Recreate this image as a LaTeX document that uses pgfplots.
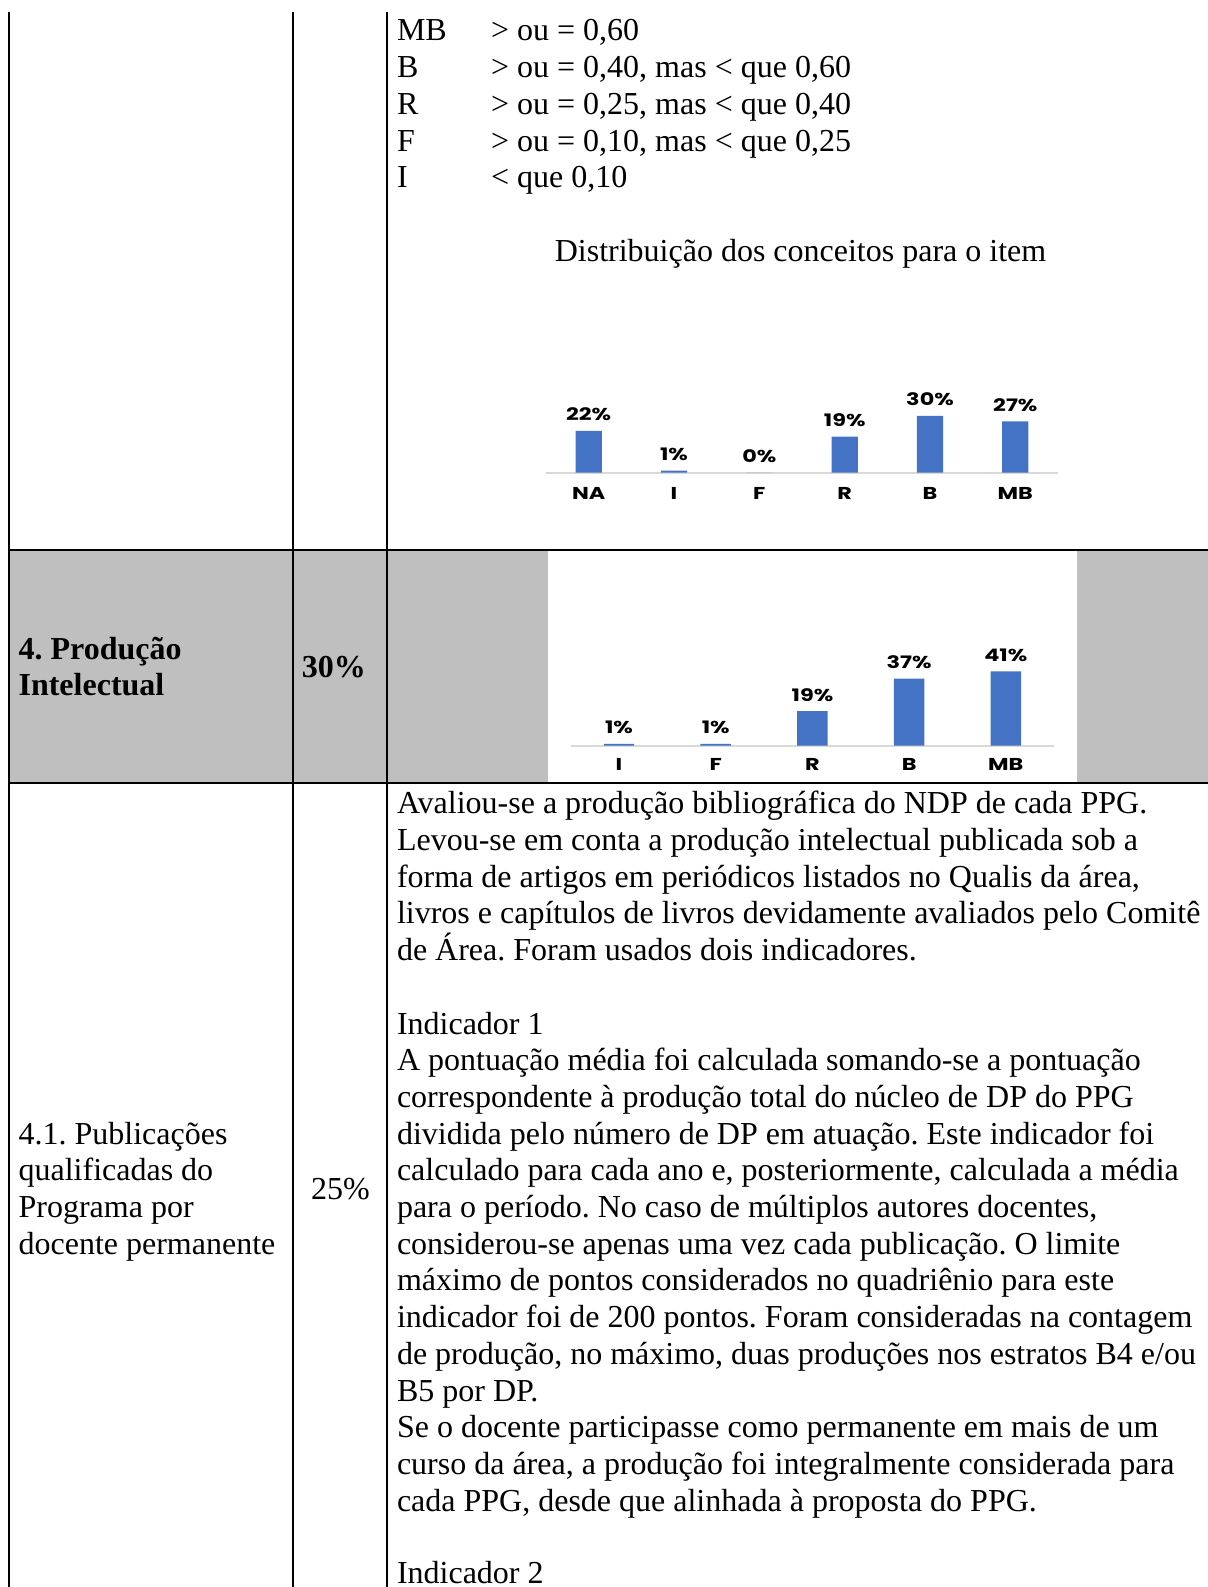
\documentclass[border=0pt]{standalone}
\usepackage{fontspec}
\setmainfont{Liberation Serif}
\newfontfamily\chartfont{Poppins}
\usepackage{pgfplots}
\pgfplotsset{compat=1.18}
\definecolor{barblue}{HTML}{4472C4}
\definecolor{cellgray}{HTML}{BFBFBF}
\definecolor{axgray}{HTML}{D9D9D9}
\frenchspacing
\newcommand\cf{\chartfont\bfseries\fontsize{8.6}{9}\selectfont}
\pgfplotsset{barchart/.style={
  ybar, scale only axis, ymin=0, clip=false, enlargelimits=false,
  axis x line*=bottom, axis y line=none,
  x axis line style={draw=axgray, line width=1pt, -},
  xtick=data, major tick length=0pt, ytick=\empty,
  xticklabel style={font=\cf, anchor=base, inner sep=0pt, xscale=1.3, text=black},
  nodes near coords={\pgfmathprintnumber{\pgfplotspointmeta}\%},
  every node near coord/.append style={font=\cf, anchor=base, inner sep=0pt, yshift=5.0pt, xscale=1.3, text=black},
  /pgf/number format/assume math mode=true,
}}
\newcommand\T[3]{\node[anchor=base west,inner sep=0pt] at (#1,#2) {#3};}
\begin{document}
\begin{tikzpicture}
\begin{scope}[x=0.5pt,y=-0.5pt,every node/.style={font=\fontsize{16}{18}\selectfont}]
\useasboundingbox (0,0) rectangle (1208,1587);
\fill[white] (0,0) rectangle (1208,1587);
\fill[cellgray] (9,550) rectangle (1208,783);
\fill[white] (548,551) rectangle (1077,782);
\draw[line width=0.8pt] (9,12) -- (9,1587);
\draw[line width=0.8pt] (293,12) -- (293,1587);
\draw[line width=0.8pt] (387,12) -- (387,1587);
\draw[line width=0.8pt] (9,550) -- (1208,550);
\draw[line width=0.8pt] (9,783) -- (1208,783);
% top criteria
\T{396.6}{40.9}{MB}\T{490.7}{40.9}{> ou = 0,60}
\T{396.6}{77.6}{B}\T{490.7}{77.6}{> ou = 0,40, mas < que 0,60}
\T{396.6}{114.3}{R}\T{490.7}{114.3}{> ou = 0,25, mas < que 0,40}
\T{396.6}{151.0}{F}\T{490.7}{151.0}{> ou = 0,10, mas < que 0,25}
\T{396.6}{187.7}{I}\T{490.7}{187.7}{< que 0,10}
\T{554.4}{261.4}{Distribuição dos conceitos para o item}
% gray row
\T{18.2}{659}{\bfseries 4. Produção}
\T{18.2}{695.4}{\bfseries Intelectual}
\T{301.5}{677.2}{\bfseries 30\%}
% lower left
\T{18.2}{1144.1}{4.1. Publicações}
\T{18.2}{1180.8}{qualificadas do}
\T{18.2}{1217.5}{Programa por}
\T{18.2}{1254.2}{docente permanente}
\T{310.6}{1199.2}{25\%}
% lower right
\T{396.6}{813.8}{Avaliou-se a produção bibliográfica do NDP de cada PPG.}
\T{396.6}{850.5}{Levou-se em conta a produção intelectual publicada sob a}
\T{396.6}{887.2}{forma de artigos em periódicos listados no Qualis da área,}
\T{396.6}{923.9}{livros e capítulos de livros devidamente avaliados pelo Comitê}
\T{396.6}{960.6}{de Área. Foram usados dois indicadores.}
\T{396.6}{1034.0}{Indicador 1}
\T{396.6}{1070.7}{A pontuação média foi calculada somando-se a pontuação}
\T{396.6}{1107.4}{correspondente à produção total do núcleo de DP do PPG}
\T{396.6}{1144.1}{dividida pelo número de DP em atuação. Este indicador foi}
\T{396.6}{1180.8}{calculado para cada ano e, posteriormente, calculada a média}
\T{396.6}{1217.5}{para o período. No caso de múltiplos autores docentes,}
\T{396.6}{1254.2}{considerou-se apenas uma vez cada publicação. O limite}
\T{396.6}{1290.9}{máximo de pontos considerados no quadriênio para este}
\T{396.6}{1327.6}{indicador foi de 200 pontos. Foram consideradas na contagem}
\T{396.6}{1364.3}{de produção, no máximo, duas produções nos estratos B4 e/ou}
\T{396.6}{1401.0}{B5 por DP.}
\T{396.6}{1437.7}{Se o docente participasse como permanente em mais de um}
\T{396.6}{1474.4}{curso da área, a produção foi integralmente considerada para}
\T{396.6}{1511.1}{cada PPG, desde que alinhada à proposta do PPG.}
\T{396.6}{1583.0}{Indicador 2}
\end{scope}
% chart 1
\begin{axis}[barchart, at={(273pt,-236.25pt)}, anchor=south west,
  width=256pt, height=37.8pt, xmin=-0.5, xmax=5.5, ymax=40,
  bar width=13.15pt, xticklabels={NA,I,F,R,B,MB},
  xticklabel style={yshift=-13.6pt}]
\addplot[fill=barblue, draw=none] coordinates {(0,22) (1,1) (2,0) (3,19) (4,30) (5,27)};
\end{axis}
% chart 2
\begin{axis}[barchart, at={(285.3pt,-372.8pt)}, anchor=south west,
  width=241.8pt, height=40.7pt, xmin=-0.5, xmax=4.5, ymax=45,
  bar width=15.2pt, xticklabels={I,F,R,B,MB},
  xticklabel style={yshift=-12.6pt}]
\addplot[fill=barblue, draw=none] coordinates {(0,1) (1,1) (2,19) (3,37) (4,41)};
\end{axis}
\end{tikzpicture}
\end{document}
